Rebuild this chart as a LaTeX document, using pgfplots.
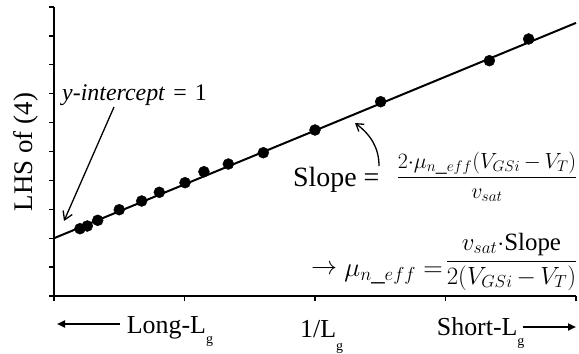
\RequirePackage{fix-cm}
\documentclass[border=0pt]{standalone}
\usepackage{fontspec}
\setmainfont{Liberation Serif}
\usepackage{pgfplots}
\pgfplotsset{compat=1.18}
\usetikzlibrary{arrows.meta}
\begin{document}
\begin{tikzpicture}
\useasboundingbox (0,0) rectangle (579bp,-354bp);
\begin{axis}[at={(54bp,-296bp)}, anchor=south west, scale only axis,
  width=522bp, height=289bp,
  xmin=0, xmax=4, ymin=-1, ymax=9,
  axis x line*=bottom, axis y line*=left,
  xtick={0,1,2,3,4}, ytick={-1,0,...,9},
  xticklabels={}, yticklabels={},
  tick align=outside, major tick length=5bp,
  axis line style={line width=1.3bp, black},
  every tick/.style={black, line width=1.3bp},
  clip=false]
\addplot[black, line width=2bp] coordinates {(0,1) (4,8.45)};
\addplot[only marks, mark=*, mark size=5.5bp, black] coordinates {
(0.199,1.329) (0.255,1.422) (0.335,1.619) (0.500,1.986) (0.672,2.287)
(0.807,2.588) (1.004,2.920) (1.149,3.301) (1.336,3.567) (1.604,3.958)
(2.000,4.744) (2.503,5.723) (3.336,7.142) (3.637,7.893)};
\end{axis}
\begin{scope}[x=1bp, y=-1bp]
\node[rotate=90, anchor=base, inner sep=0, font=\fontsize{27}{32}\selectfont] at (32,152) {LHS of (4)};
\node[anchor=base west, inner sep=0, font=\fontsize{24}{28}\selectfont] at (62,100) {\textit{y-intercept}\,\,=\,\,1};
\draw[-{Straight Barb[length=8bp,width=10bp]}, line width=1.3bp] (114,107) -- (64,221);
\draw[-{Straight Barb[length=7bp,width=9bp]}, line width=1.3bp] (379,166) .. controls (379,148) and (371,135) .. (355,123);
\node[anchor=base west, inner sep=0, font=\fontsize{28}{32}\selectfont] at (293,186.7) {Slope =};
\node[anchor=base, inner sep=0, font=\fontsize{22}{26}\selectfont] at (487,183) {$\displaystyle\frac{2{\cdot}\mu_{n\_eff}(V_{GSi}\,{-}\,V_T)}{v_{sat}}$};
\node[anchor=base west, inner sep=0, font=\fontsize{26}{30}\selectfont] at (311,274) {$\rightarrow$};
\node[anchor=base east, inner sep=0, font=\fontsize{27}{32}\selectfont] at (443,276) {$\mu_{n\_eff} =$};
\node[anchor=base, inner sep=0, font=\fontsize{25}{30}\selectfont] at (511.5,267) {$\displaystyle\frac{v_{sat}{\cdot}\mbox{Slope}}{2(V_{GSi}\,{-}\,V_T)}$};
\draw[-{Triangle[length=8bp,width=7bp]}, line width=2bp] (120,324) -- (57,324);
\draw[-{Triangle[length=8bp,width=7bp]}, line width=2bp] (523,327) -- (576,327);
\node[anchor=base west, inner sep=0, font=\fontsize{26}{30}\selectfont] at (126.7,333) {Long-L\raisebox{-10.5bp}{\fontsize{14}{16}\selectfont g}};
\node[anchor=base west, inner sep=0, font=\fontsize{26}{30}\selectfont] at (300,337) {1/L\raisebox{-13bp}{\fontsize{14}{16}\selectfont g}};
\node[anchor=base west, inner sep=0, font=\fontsize{26}{30}\selectfont] at (436.7,335) {Short-L\raisebox{-10bp}{\fontsize{14}{16}\selectfont g}};
\end{scope}
\end{tikzpicture}
\end{document}
